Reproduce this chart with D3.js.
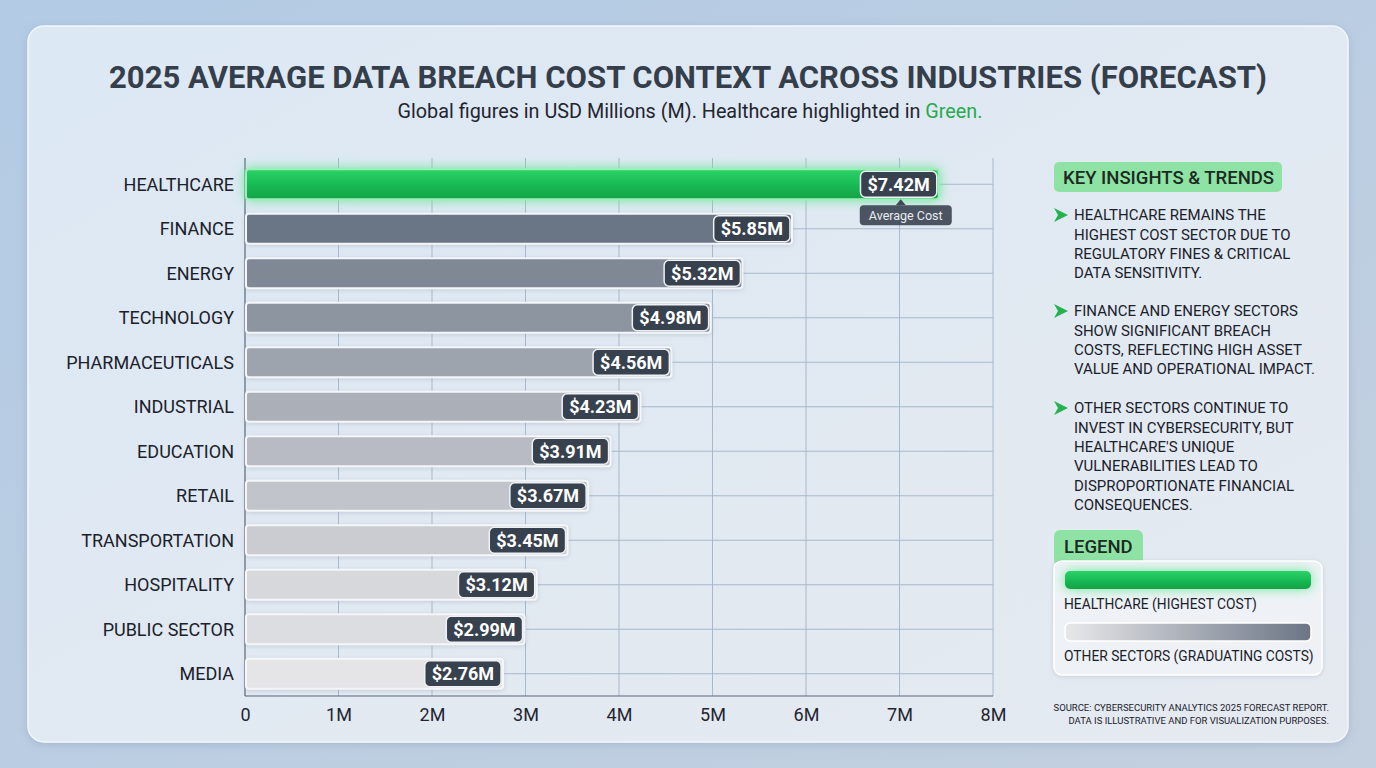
<!DOCTYPE html>
<html>
<head>
<meta charset="utf-8">
<script src="https://cdn.jsdelivr.net/npm/d3@7"></script>
<style>
  html, body { margin: 0; padding: 0; }
  body { width: 1376px; height: 768px; overflow: hidden; font-family: Roboto, "Open Sans", sans-serif; }
</style>
</head>
<body>
<svg id="chart" width="1376" height="768"></svg>
<script>
// data
const industries = ["HEALTHCARE", "FINANCE", "ENERGY", "TECHNOLOGY", "PHARMACEUTICALS", "INDUSTRIAL",
  "EDUCATION", "RETAIL", "TRANSPORTATION", "HOSPITALITY", "PUBLIC SECTOR", "MEDIA"];
const costs = [7.42, 5.85, 5.32, 4.98, 4.56, 4.23, 3.91, 3.67, 3.45, 3.12, 2.99, 2.76];
const xTicks = [0, 1, 2, 3, 4, 5, 6, 7, 8];
const tickLabels = ["0", "1M", "2M", "3M", "4M", "5M", "6M", "7M", "8M"];

const insights = [
  ["HEALTHCARE REMAINS THE", "HIGHEST COST SECTOR DUE TO", "REGULATORY FINES & CRITICAL", "DATA SENSITIVITY."],
  ["FINANCE AND ENERGY SECTORS", "SHOW SIGNIFICANT BREACH", "COSTS, REFLECTING HIGH ASSET", "VALUE AND OPERATIONAL IMPACT."],
  ["OTHER SECTORS CONTINUE TO", "INVEST IN CYBERSECURITY, BUT", "HEALTHCARE'S UNIQUE", "VULNERABILITIES LEAD TO", "DISPROPORTIONATE FINANCIAL", "CONSEQUENCES."]
];

const svg = d3.select("#chart");
const defs = svg.append("defs");

// background gradients
const bg = defs.append("linearGradient").attr("id", "bg").attr("x1", 0).attr("y1", 0).attr("x2", 1).attr("y2", 1);
bg.append("stop").attr("offset", 0).attr("stop-color", "#b3cbe5");
bg.append("stop").attr("offset", 1).attr("stop-color", "#c3d0df");

const card = defs.append("linearGradient").attr("id", "card").attr("x1", 0).attr("y1", 0).attr("x2", 1).attr("y2", 1);
card.append("stop").attr("offset", 0).attr("stop-color", "#dce8f4");
card.append("stop").attr("offset", 1).attr("stop-color", "#e5eaf0");

const green = defs.append("linearGradient").attr("id", "green").attr("x1", 0).attr("y1", 0).attr("x2", 0).attr("y2", 1);
green.append("stop").attr("offset", 0).attr("stop-color", "#2bd267");
green.append("stop").attr("offset", 0.5).attr("stop-color", "#19bb55");
green.append("stop").attr("offset", 1).attr("stop-color", "#12a246");

const legendGrad = defs.append("linearGradient").attr("id", "legendGrad");
legendGrad.append("stop").attr("offset", 0).attr("stop-color", "#e8e8ea");
legendGrad.append("stop").attr("offset", 1).attr("stop-color", "#6b7585");

const glow = defs.append("filter").attr("id", "glow").attr("x", "-10%").attr("y", "-80%").attr("width", "120%").attr("height", "260%");
glow.append("feDropShadow").attr("dx", 0).attr("dy", 0).attr("stdDeviation", 6).attr("flood-color", "#5fe690").attr("flood-opacity", 0.9);

const soft = defs.append("filter").attr("id", "soft").attr("x", "-10%").attr("y", "-50%").attr("width", "120%").attr("height", "200%");
soft.append("feDropShadow").attr("dx", 0).attr("dy", 1).attr("stdDeviation", 2).attr("flood-color", "#8796a8").attr("flood-opacity", 0.35);

const cardShadow = defs.append("filter").attr("id", "cardShadow").attr("x", "-5%").attr("y", "-5%").attr("width", "110%").attr("height", "110%");
cardShadow.append("feDropShadow").attr("dx", 0).attr("dy", 2).attr("stdDeviation", 5).attr("flood-color", "#7d93ab").attr("flood-opacity", 0.35);

svg.append("rect").attr("width", 1376).attr("height", 768).attr("fill", "url(#bg)");
svg.append("rect").attr("x", 28).attr("y", 26).attr("width", 1320).attr("height", 716).attr("rx", 16)
  .attr("fill", "url(#card)").attr("stroke", "#f3f7fb").attr("stroke-width", 1.5).attr("filter", "url(#cardShadow)");

// title
svg.append("text").attr("x", 688).attr("y", 88).attr("text-anchor", "middle")
  .attr("font-size", 31).attr("font-weight", 700).attr("fill", "#353e4b")
  .attr("textLength", 1158).attr("lengthAdjust", "spacingAndGlyphs")
  .text("2025 AVERAGE DATA BREACH COST CONTEXT ACROSS INDUSTRIES (FORECAST)");
const sub = svg.append("text").attr("x", 690).attr("y", 118).attr("text-anchor", "middle")
  .attr("font-size", 19.8).attr("fill", "#1f2530");
sub.append("tspan").text("Global figures in USD Millions (M). Healthcare highlighted in ");
sub.append("tspan").attr("fill", "#27a94f").text("Green.");

// scales
const x = d3.scaleLinear().domain([0, 8]).range([245, 993]);
const y = d3.scaleBand().domain(industries).range([162, 696]).paddingInner(0.33).paddingOuter(0.165);
const shade = d3.scaleLinear().domain([2.76, 5.85]).range(["#e5e5e7", "#6b7585"]);

// grid
const grid = svg.append("g");
grid.selectAll(".vg").data(xTicks.slice(1)).join("line")
  .attr("x1", d => x(d)).attr("x2", d => x(d)).attr("y1", 158).attr("y2", 696)
  .attr("stroke", "#a7b9cc").attr("stroke-width", 1);
grid.selectAll(".hg").data(industries).join("line")
  .attr("x1", 245).attr("x2", 993)
  .attr("y1", d => y(d) + y.bandwidth() / 2).attr("y2", d => y(d) + y.bandwidth() / 2)
  .attr("stroke", "#a7b9cc").attr("stroke-width", 1);

// axis lines
svg.append("line").attr("x1", 245).attr("x2", 245).attr("y1", 158).attr("y2", 696).attr("stroke", "#5b6677").attr("stroke-width", 1.2);
svg.append("line").attr("x1", 245).attr("x2", 993).attr("y1", 696).attr("y2", 696).attr("stroke", "#5b6677").attr("stroke-width", 1.2);

const xAxis = d3.axisBottom(x).tickValues(xTicks).tickFormat((d, i) => tickLabels[i]).tickSize(0).tickPadding(12);
const xg = svg.append("g").attr("transform", "translate(0,696)").call(xAxis);
xg.select(".domain").remove();
xg.selectAll("text").attr("font-size", 18).attr("fill", "#1f2530").attr("font-family", "Roboto, sans-serif");

// category labels
svg.append("g").selectAll("text").data(industries).join("text")
  .attr("x", 234).attr("y", d => y(d) + y.bandwidth() / 2).attr("dy", "0.36em")
  .attr("text-anchor", "end").attr("font-size", 18).attr("fill", "#1b212b")
  .text(d => d);

// bars
const rows = industries.map((name, i) => ({ name, value: costs[i], i }));
const bars = svg.append("g");
bars.selectAll("rect").data(rows).join("rect")
  .attr("x", 246).attr("y", d => y(d.name))
  .attr("width", d => x(d.value) - 246).attr("height", y.bandwidth())
  .attr("rx", 3)
  .attr("fill", d => d.i === 0 ? "url(#green)" : shade(d.value))
  .attr("stroke", d => d.i === 0 ? "#9af0b6" : "#f4f6f9").attr("stroke-width", 2)
  .attr("filter", d => d.i === 0 ? "url(#glow)" : "url(#soft)");

// value labels
const labels = svg.append("g");
rows.forEach(d => {
  const txt = "$" + d.value.toFixed(2) + "M";
  const cy = y(d.name) + y.bandwidth() / 2;
  const right = x(d.value) - 2;
  const g = labels.append("g");
  const t = g.append("text").attr("x", right - 7).attr("y", cy).attr("dy", "0.36em")
    .attr("text-anchor", "end").attr("font-size", 18).attr("font-weight", 700).attr("fill", "#ffffff")
    .text(txt);
  const w = t.node().getComputedTextLength();
  g.insert("rect", "text").attr("x", right - w - 14).attr("y", cy - 13).attr("width", w + 14).attr("height", 26)
    .attr("rx", 5).attr("fill", "#38414e").attr("stroke", "#eef2f6").attr("stroke-width", 1.5);
});

// average cost callout under healthcare label
const hc = y(industries[0]) + y.bandwidth() / 2;
const ax = x(costs[0]) - 38;
const call = svg.append("g");
call.append("path").attr("d", `M${ax - 5},${hc + 21} L${ax},${hc + 15} L${ax + 5},${hc + 21} Z`).attr("fill", "#3e4754");
call.append("rect").attr("x", ax - 41).attr("y", hc + 21).attr("width", 92).attr("height", 20).attr("rx", 4)
  .attr("fill", "#3e4754").attr("opacity", 0.92);
call.append("text").attr("x", ax + 5).attr("y", hc + 31).attr("dy", "0.36em").attr("text-anchor", "middle")
  .attr("font-size", 12.5).attr("fill", "#e9edf2").text("Average Cost");

// insights panel
const panel = svg.append("g");
panel.append("rect").attr("x", 1054).attr("y", 162).attr("width", 228).attr("height", 30).attr("rx", 5).attr("fill", "#8ee3a4");
panel.append("text").attr("x", 1063).attr("y", 177).attr("dy", "0.36em").attr("font-size", 18.5).attr("font-weight", 500)
  .attr("fill", "#1b2a22").text("KEY INSIGHTS & TRENDS");

const paraTop = [215, 311, 408];
insights.forEach((lines, p) => {
  const top = paraTop[p];
  panel.append("path").attr("d", `M1054,${top - 7} L1068,${top} L1054,${top + 7} L1058,${top} Z`).attr("fill", "#25b34f");
  panel.selectAll(null).data(lines).join("text")
    .attr("x", 1074).attr("y", (d, i) => top + i * 19.3).attr("dy", "0.36em")
    .attr("font-size", 15).attr("fill", "#1b212b").text(d => d);
});

// legend
const lg = svg.append("g");
lg.append("rect").attr("x", 1054).attr("y", 530).attr("width", 89).attr("height", 36).attr("rx", 6).attr("fill", "#8ee3a4");
lg.append("text").attr("x", 1064).attr("y", 546).attr("dy", "0.36em").attr("font-size", 18.5).attr("font-weight", 500)
  .attr("fill", "#1b2a22").text("LEGEND");
lg.append("rect").attr("x", 1054).attr("y", 561).attr("width", 268).attr("height", 114).attr("rx", 8)
  .attr("fill", "#eef2f6").attr("stroke", "#ffffff").attr("stroke-width", 1.5).attr("filter", "url(#soft)");
lg.append("rect").attr("x", 1065).attr("y", 571).attr("width", 246).attr("height", 18).attr("rx", 5)
  .attr("fill", "url(#green)").attr("filter", "url(#glow)");
lg.append("text").attr("x", 1064).attr("y", 604).attr("dy", "0.36em").attr("font-size", 13.8).attr("fill", "#1b212b")
  .text("HEALTHCARE (HIGHEST COST)");
lg.append("rect").attr("x", 1065).attr("y", 623).attr("width", 246).attr("height", 18).attr("rx", 5)
  .attr("fill", "url(#legendGrad)").attr("stroke", "#ffffff").attr("stroke-width", 1.5);
lg.append("text").attr("x", 1064).attr("y", 656).attr("dy", "0.36em").attr("font-size", 13.8).attr("fill", "#1b212b")
  .text("OTHER SECTORS (GRADUATING COSTS)");

// source
svg.append("text").attr("x", 1329).attr("y", 708).attr("dy", "0.36em").attr("text-anchor", "end")
  .attr("font-size", 9.5).attr("fill", "#1b212b").text("SOURCE: CYBERSECURITY ANALYTICS 2025 FORECAST REPORT.");
svg.append("text").attr("x", 1329).attr("y", 721).attr("dy", "0.36em").attr("text-anchor", "end")
  .attr("font-size", 9.5).attr("fill", "#1b212b").text("DATA IS ILLUSTRATIVE AND FOR VISUALIZATION PURPOSES.");
</script>
</body>
</html>
